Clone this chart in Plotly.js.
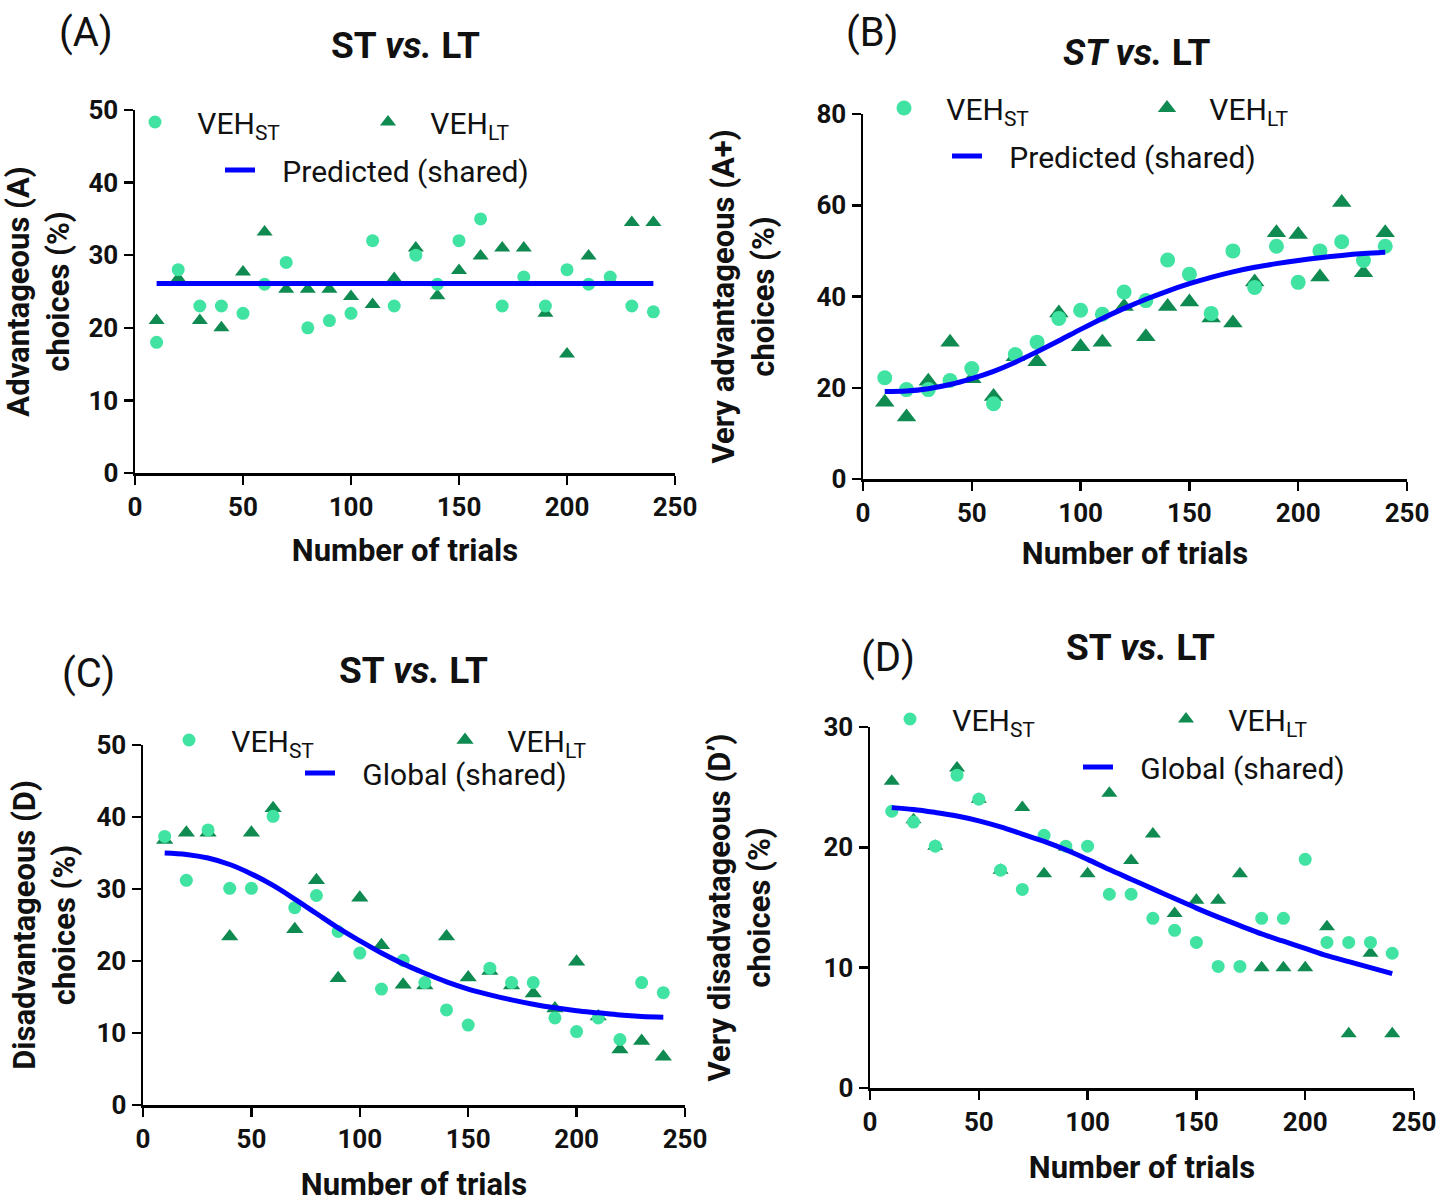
<!DOCTYPE html>
<html>
<head>
<meta charset="utf-8">
<script src="https://cdn.plot.ly/plotly-3.0.1.min.js"></script>
<style>
html,body{margin:0;padding:0;background:#fff;}
#chart{width:1456px;height:1203px;}
</style>
</head>
<body>
<div id="chart"></div>
<script>
// ---------- DATA ----------
var trials = [10,20,30,40,50,60,70,80,90,100,110,120,130,140,150,160,170,180,190,200,210,220,230,240];

// (A) Advantageous choices (%)
var A_st   = [18,28,23,23,22,26,29,20,21,22,32,23,30,26,32,35,23,27,23,28,26,27,23,22.2];
var A_lt   = [21,26.8,21,20,27.7,33.2,25.3,25.3,25.3,24.3,23.2,26.8,31,24.4,27.9,29.9,31,31,22,16.4,29.9,26.5,34.5,34.5];
var A_fit  = [26.1,26.1,26.1,26.1,26.1,26.1,26.1,26.1,26.1,26.1,26.1,26.1,26.1,26.1,26.1,26.1,26.1,26.1,26.1,26.1,26.1,26.1,26.1,26.1];

// (B) Very advantageous choices (%)
var B_st   = [22.2,19.6,19.6,21.6,24.2,16.5,27.3,30,35.2,37,36.1,41,39.1,48,44.9,36.3,50,42,51,43.1,50,52,47.9,51];
var B_lt   = [16.8,13.6,21.4,30,22,18.1,26.8,25.7,36.4,29,30,37.8,31.2,37.8,38.8,35.3,34.2,43.2,54,53.6,44.3,60.6,45.2,54];
var B_fit  = [19.2,19.3,19.8,20.7,22.0,23.6,25.6,27.9,30.3,32.8,35.2,37.4,39.4,41.2,42.8,44.2,45.4,46.4,47.2,47.9,48.5,49.0,49.4,49.7];

// (C) Disadvantageous choices (%)
var C_st   = [37.3,31.2,38.2,30.1,30.1,40.1,27.4,29.1,24.1,21.1,16.1,20.1,17,13.2,11.1,19,17,17,12.1,10.2,12.1,9.1,17,15.6];
var C_lt   = [36.8,37.8,37.8,23.4,37.8,41.2,24.4,31.2,17.6,28.8,22.2,16.7,16.6,23.4,17.7,18.6,16.6,15.5,13.4,19.9,12.3,7.7,8.9,6.7];
var C_fit  = [35.0,34.8,34.3,33.4,32.1,30.5,28.6,26.6,24.6,22.8,21.1,19.6,18.3,17.1,16.1,15.3,14.6,14.0,13.5,13.1,12.8,12.5,12.3,12.2];

// (D) Very disadvantageous choices (%)
var D_st   = [23,22.1,20.1,26,24,18.1,16.5,21,20.1,20.1,16.1,16.1,14.1,13.1,12.1,10.1,10.1,14.1,14.1,19,12.1,12.1,12.1,11.2];
var D_lt   = [25.5,22.3,20.1,26.6,24,18.1,23.3,17.8,20,17.8,24.5,18.9,21.1,14.5,15.6,15.6,17.8,10,10,10,13.4,4.5,11.2,4.5];
var D_fit  = [23.3,23.15,22.9,22.6,22.2,21.7,21.1,20.5,19.8,19.0,18.15,17.35,16.55,15.75,14.95,14.2,13.5,12.8,12.2,11.6,11.0,10.5,10.0,9.5];

var xTicks = [0,50,100,150,200,250];
var name_st = 'VEH<sub>ST</sub>';
var name_lt = 'VEH<sub>LT</sub>';
var fitNames = ['Predicted (shared)','Predicted (shared)','Global (shared)','Global (shared)'];
var yTitles = ['Advantageous (A)<br>choices (%)','Very advantageous (A+)<br>choices (%)',
               'Disadvantageous (D)<br>choices (%)','Very disadvatageous (D\u2019)<br>choices (%)'];
var yRanges = [[0,50],[0,80],[0,50],[0,30]];
var yDtick = [10,20,10,10];
var panelLetters = ['(A)','(B)','(C)','(D)'];

// ---------- STYLE / LAYOUT ----------
var W = 1456, H = 1203;
function px(v){return v/W;}
function py(v){return 1 - v/H;}
var FONT = 'Roboto, "Liberation Sans", Arial, sans-serif';
var ST_COLOR = '#40e3a2', LT_COLOR = '#0f8a50', FIT_COLOR = '#0000ff';

// plot areas in pixels: [left, right, top, bottom]
var boxes = [[135,675,110,473],[863,1407,114,479],[143,685,745,1105],[870,1414,727,1088]];
var yStandoff = [11,33,12,44];
var xStandoff = [19,16,22,21];
var markerSizes = [[13,14],[15,17],[13,15],[13,14]];

var seriesST = [A_st,B_st,C_st,D_st];
var seriesLT = [A_lt,B_lt,C_lt,D_lt];
var seriesFit = [A_fit,B_fit,C_fit,D_fit];

// legend anchor pixels: [stCircle x,y], [ltTri x,y], [line start x, y]
var legPos = [
  [[155,122],[388,122],[225,170]],
  [[904,108],[1167,108],[952,156]],
  [[189,740],[465,740],[305,773]],
  [[910,719],[1186,719],[1083,767]]
];

var traces = [];
var layout = {
  width: W, height: H,
  margin: {l:0,r:0,t:0,b:0},
  paper_bgcolor: '#fff', plot_bgcolor: 'rgba(0,0,0,0)',
  font: {family: FONT, color: '#111'},
  annotations: [], showlegend: true
};

var legCount = 0;
function legendName(){ legCount++; return legCount===1 ? 'legend' : 'legend'+legCount; }
var NB = '\u00a0';

for (var i=0;i<4;i++){
  var s = i===0 ? '' : String(i+1);
  var b = boxes[i];
  var xa = 'xaxis'+s, ya = 'yaxis'+s;
  layout[xa] = {
    domain:[px(b[0]),px(b[1])], range:[0,250], anchor:'y'+s,
    tickvals:xTicks, ticks:'outside', ticklen:9, tickwidth:2.5, tickcolor:'#000',
    showline:true, linewidth:2.5, linecolor:'#000', showgrid:false, zeroline:false,
    tickfont:{family:FONT,size:26,weight:'bold',color:'#111'},
    title:{text:'Number of trials', font:{family:FONT,size:31,weight:'bold',color:'#111'}, standoff:xStandoff[i]},
    fixedrange:true
  };
  layout[ya] = {
    domain:[py(b[3]),py(b[2])], range:yRanges[i], anchor:'x'+s,
    dtick:yDtick[i], tick0:0, ticks:'outside', ticklen:9, tickwidth:2.5, tickcolor:'#000',
    showline:true, linewidth:2.5, linecolor:'#000', showgrid:false, zeroline:false,
    tickfont:{family:FONT,size:26,weight:'bold',color:'#111'},
    title:{text:yTitles[i], font:{family:FONT,size:31,weight:'bold',color:'#111'}, standoff:yStandoff[i]},
    fixedrange:true
  };
  var lp = legPos[i];
  var l1 = legendName(), l2 = legendName(), l3 = legendName();
  var legFont = {family:FONT, size:30, color:'#111'};
  layout[l1] = {x:px(lp[0][0]-20), y:py(lp[0][1]), xanchor:'left', yanchor:'middle', bgcolor:'rgba(0,0,0,0)', font:legFont, itemwidth:30};
  layout[l2] = {x:px(lp[1][0]-20), y:py(lp[1][1]), xanchor:'left', yanchor:'middle', bgcolor:'rgba(0,0,0,0)', font:legFont, itemwidth:30};
  layout[l3] = {x:px(lp[2][0]-5), y:py(lp[2][1]), xanchor:'left', yanchor:'middle', bgcolor:'rgba(0,0,0,0)', font:legFont, itemwidth:30};

  traces.push({x:trials, y:seriesLT[i], xaxis:'x'+s, yaxis:'y'+s, type:'scatter', mode:'markers',
    name:NB+NB+NB+name_lt, legend:l2, cliponaxis:false,
    marker:{symbol:'triangle-up', size:markerSizes[i][1], color:LT_COLOR}});
  traces.push({x:trials, y:seriesST[i], xaxis:'x'+s, yaxis:'y'+s, type:'scatter', mode:'markers',
    name:NB+NB+NB+name_st, legend:l1, cliponaxis:false,
    marker:{symbol:'circle', size:markerSizes[i][0], color:ST_COLOR}});
  traces.push({x:trials, y:seriesFit[i], xaxis:'x'+s, yaxis:'y'+s, type:'scatter', mode:'lines',
    name:NB+NB+NB+fitNames[i], legend:l3, cliponaxis:false,
    line:{color:FIT_COLOR, width:5, shape:'spline'}});
}

// panel titles and letters
var titlePos = [[405,45],[1137,52],[413,670],[1140,647]];
var titleText = ['<b>ST <i>vs.</i> LT</b>','<b><i>ST vs.</i> LT</b>','<b>ST <i>vs.</i> LT</b>','<b>ST <i>vs.</i> LT</b>'];
var letterPos = [[86,32],[872,32],[88,673],[888,657]];
for (var j=0;j<4;j++){
  layout.annotations.push({xref:'paper',yref:'paper',x:px(titlePos[j][0]),y:py(titlePos[j][1]),
    xanchor:'center',yanchor:'middle',showarrow:false,text:titleText[j],
    font:{family:FONT,size:37,color:'#111'}});
  layout.annotations.push({xref:'paper',yref:'paper',x:px(letterPos[j][0]),y:py(letterPos[j][1]),
    xanchor:'center',yanchor:'middle',showarrow:false,text:panelLetters[j],
    font:{family:FONT,size:40,color:'#111'}});
}

Plotly.newPlot('chart', traces, layout, {displayModeBar:false, staticPlot:true});
</script>
</body>
</html>
